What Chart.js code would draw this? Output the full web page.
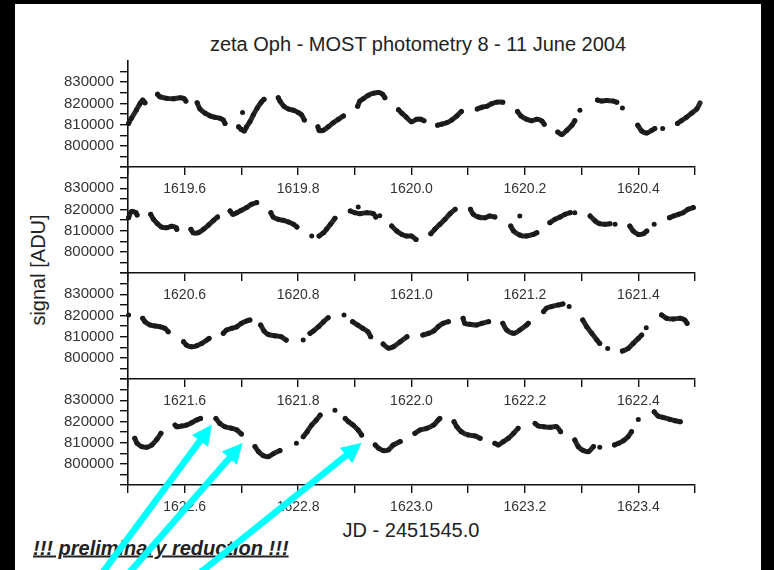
<!DOCTYPE html>
<html><head><meta charset="utf-8">
<script src="https://cdn.jsdelivr.net/npm/chart.js@4.4.1/dist/chart.umd.min.js"></script>
<style>
html,body{margin:0;padding:0;background:#000;width:774px;height:570px;overflow:hidden;}
#page{position:absolute;left:15px;top:4px;width:746px;height:566px;background:#fff;}
canvas{position:absolute;left:0;top:0;}
.t{position:absolute;font-family:"Liberation Sans",Arial,sans-serif;color:#222;white-space:nowrap;}
</style></head><body>
<div id="page"></div>
<div class="t" style="left:418px;top:44px;transform:translate(-50%,-50%);font-size:20px;">zeta Oph - MOST photometry 8 - 11 June 2004</div>
<div class="t" style="left:38px;top:270px;transform:translate(-50%,-50%) rotate(-90deg);font-size:20px;">signal [ADU]</div>
<div class="t" style="left:411px;top:530px;transform:translate(-50%,-50%);font-size:20px;">JD - 2451545.0</div>
<div class="t" style="left:33px;top:548px;transform:translate(0,-50%);font-size:20px;font-weight:bold;font-style:italic;text-decoration:underline;">!!! preliminary reduction !!!</div>
<canvas id="c1" width="774" height="570"></canvas>
<canvas id="c2" width="774" height="570"></canvas>
<canvas id="c3" width="774" height="570"></canvas>
<canvas id="c4" width="774" height="570"></canvas>
<script>
// ---- data (JD - 2451545.0, signal in ADU); null separates orbit segments ----
const panel1JD = [1619.501,1619.506,1619.515,1619.521,1619.526,1619.530,null,
 1619.552,1619.556,1619.568,1619.580,1619.592,1619.599,1619.602,null,
 1619.622,1619.627,1619.636,1619.645,1619.653,1619.662,1619.668,1619.671,null,
 1619.695,1619.700,1619.705,1619.709,1619.715,1619.721,1619.728,1619.735,1619.740,null,
 1619.702,null,
 1619.765,1619.768,1619.775,1619.783,1619.792,1619.800,1619.806,1619.811,null,
 1619.835,1619.837,1619.844,1619.853,1619.862,1619.871,1619.880,null,
 1619.905,1619.909,1619.915,1619.924,1619.933,1619.942,1619.949,1619.953,null,
 1619.977,1619.983,1619.991,1620.000,1620.009,1620.016,1620.022,null,
 1620.046,1620.053,1620.062,1620.071,1620.080,1620.088,null,
 1620.116,1620.124,1620.133,1620.141,1620.150,1620.161,null,
 1620.187,1620.193,1620.203,1620.212,1620.221,1620.230,1620.234,null,
 1620.258,1620.265,1620.274,1620.283,1620.288,null,
 1620.297,null,
 1620.328,1620.335,1620.344,1620.356,1620.362,null,
 1620.372,null,
 1620.399,1620.406,1620.415,1620.424,1620.429,null,
 1620.443,null,
 1620.469,1620.476,1620.485,1620.494,1620.503,1620.509];
const panel1ADU = [810550,812980,817030,819790,821570,820270,null,
 824330,823190,822380,822220,822710,822220,821080,null,
 820270,817360,815410,814110,813470,812980,812170,810550,null,
 808930,807630,806980,808930,811360,814600,817840,820600,821900,null,
 815740,null,
 822710,821080,818650,817360,816710,815740,814600,812170,null,
 808930,807310,807310,808930,810870,812490,814110,null,
 818650,821080,822220,823840,824810,825140,824330,822710,null,
 817030,815410,813470,811360,812490,812490,811840,null,
 809740,810220,810870,812170,814110,816220,null,
 817360,818170,818650,819790,820600,820600,null,
 816220,814110,812490,811840,812490,811680,810220,null,
 806500,805360,807310,809740,811840,null,
 816710,null,
 821570,821080,821410,821080,820600,null,
 817840,null,
 809740,806980,806010,807310,808120,null,
 808120,null,
 810550,811840,813470,815410,817360,820270];

const panel2JD = [1620.501,1620.506,1620.514,1620.516,null,
 1620.540,1620.545,1620.552,1620.559,1620.568,1620.577,1620.585,1620.586,null,
 1620.611,1620.615,1620.624,1620.633,1620.642,1620.651,1620.658,null,
 1620.680,1620.685,1620.692,1620.700,1620.709,1620.718,1620.727,null,
 1620.752,1620.756,1620.765,1620.774,1620.783,1620.792,1620.798,null,
 1620.824,null,
 1620.837,1620.845,1620.850,1620.857,1620.865,null,
 1620.892,1620.900,1620.909,1620.921,1620.933,1620.937,null,
 1620.906,null,
 1620.944,null,
 1620.965,1620.974,1620.983,1620.991,1621.000,1621.008,null,
 1621.034,1621.041,1621.050,1621.059,1621.068,1621.077,null,
 1621.104,1621.109,1621.118,1621.130,1621.138,1621.147,null,
 1621.191,null,
 1621.175,1621.180,1621.191,1621.203,1621.215,1621.221,null,
 1621.244,1621.253,1621.262,1621.271,1621.280,null,
 1621.288,null,
 1621.315,1621.324,1621.332,1621.341,1621.350,null,
 1621.359,null,
 1621.385,1621.391,1621.400,1621.409,1621.415,null,
 1621.428,null,
 1621.455,1621.462,1621.471,1621.479,1621.488,1621.497,null,
 1621.523];
const panel2ADU = [816100,818950,818470,817370,null,
 817680,815310,813260,811680,811370,812000,811370,810580,null,
 810580,809000,809000,810580,812630,814840,816420,null,
 819260,817680,818470,819580,820840,822420,823210,null,
 818470,816420,815310,814840,814050,812950,811680,null,
 807420,null,
 807420,809000,810580,812950,815790,null,
 819260,818470,818000,818470,818000,816420,null,
 821160,null,
 817000,null,
 812160,809790,808210,807420,807420,805840,null,
 808530,810580,812950,815310,818000,820050,null,
 820050,817680,816420,816100,816890,816420,null,
 816890,null,
 812160,809790,807890,807420,808210,809000,null,
 813740,815310,816420,817680,818470,null,
 818470,null,
 816890,814530,813260,812950,813260,null,
 812950,null,
 812160,809790,808210,808530,809790,null,
 812950,null,
 816100,816890,817680,818470,820050,820840,null,
 818470];

const panel3JD = [1621.501,null,
 1621.526,1621.530,1621.539,1621.548,1621.556,1621.565,1621.571,null,
 1621.598,1621.603,1621.612,1621.621,1621.630,1621.639,1621.643,null,
 1621.668,1621.674,1621.683,1621.692,1621.700,1621.709,1621.715,null,
 1621.734,1621.740,1621.747,1621.759,1621.770,1621.779,null,
 1621.809,null,
 1621.821,1621.827,1621.836,1621.845,1621.853,null,
 1621.881,null,
 1621.896,1621.905,1621.914,1621.923,1621.928,null,
 1621.950,1621.959,1621.968,1621.980,1621.992,null,
 1622.020,1622.030,1622.039,1622.047,1622.056,1622.065,null,
 1622.091,1622.094,1622.103,1622.115,1622.124,1622.136,null,
 1622.161,1622.168,1622.180,1622.191,1622.203,1622.206,null,
 1622.233,1622.238,1622.247,1622.259,1622.267,null,
 1622.278,null,
 1622.302,1622.309,1622.318,1622.327,1622.332,null,
 1622.346,null,
 1622.372,1622.382,1622.391,1622.400,1622.406,null,
 1622.414,null,
 1622.441,1622.450,1622.462,1622.474,1622.482,1622.486,null,
 1622.513,1622.514];
const panel3ADU = [820210,null,
 818630,817050,815470,815000,814680,813890,812320,null,
 807580,806000,805210,805680,806790,808370,809160,null,
 811530,813110,813890,814680,816260,817370,817840,null,
 815470,812630,811050,810420,809950,808370,null,
 808370,null,
 811530,812630,814680,817050,818950,null,
 820210,null,
 817050,815470,813890,812320,809950,null,
 806500,804600,805210,807580,809950,null,
 810740,811530,812630,814680,816260,817050,null,
 818630,816260,815790,815470,816260,817050,null,
 816260,813110,811530,813110,815470,816260,null,
 821790,823370,824160,824950,825420,null,
 824160,null,
 817840,814680,811530,808370,806790,null,
 804420,null,
 803160,804420,806790,809160,810740,null,
 814210,null,
 820210,818630,818320,818630,817840,816260,null,
 809950,808370];

const panel4JD = [1622.486,1622.488,null,
 1622.512,1622.516,1622.524,1622.533,1622.542,1622.551,1622.558,null,
 1622.583,1622.586,1622.595,1622.603,1622.612,1622.621,1622.628,null,
 1622.655,1622.662,1622.671,1622.683,1622.692,1622.700,null,
 1622.724,1622.730,1622.739,1622.748,1622.756,1622.768,null,
 1622.797,null,
 1622.809,1622.816,1622.824,1622.832,1622.839,null,
 1622.865,null,
 1622.883,1622.889,1622.897,1622.906,1622.912,null,
 1622.936,1622.942,1622.950,1622.959,1622.968,1622.980,null,
 1623.006,1623.015,1623.027,1623.039,1623.047,1623.050,null,
 1623.075,1623.080,1623.088,1623.100,1623.112,1623.121,null,
 1623.147,1623.153,1623.162,1623.171,1623.180,1623.188,null,
 1623.218,1623.224,1623.233,1623.244,1623.256,1623.263,null,
 1623.288,1623.294,1623.303,1623.312,1623.321,null,
 1623.332,null,
 1623.358,1623.365,1623.374,1623.382,1623.388,null,
 1623.400,null,
 1623.428,1623.435,1623.444,1623.456,1623.465,1623.474];
const panel4ADU = [817810,816250,null,
 812030,809690,808130,807810,808910,811560,814380,null,
 818280,817500,817810,818280,819380,820630,821410,null,
 821410,819060,817500,816720,815940,814060,null,
 808130,805780,803750,803440,804690,806250,null,
 809690,null,
 812810,815160,818280,820630,822970,null,
 825310,null,
 821410,819840,818280,815940,813590,null,
 808910,807340,806250,806560,808910,810470,null,
 814380,815940,816720,818280,820630,821410,null,
 819840,817500,815160,813590,813130,812030,null,
 809690,808910,810470,812030,814380,816720,null,
 819060,817810,817500,817190,817500,815160,null,
 811250,808130,806250,805780,808130,null,
 807810,null,
 808910,809690,810940,812810,815160,null,
 820940,null,
 824530,822500,821880,820940,820310,819840];

// panel x-ranges (start JD of each 1-day strip)
const panelStartJD = [1619.5, 1620.5, 1621.5, 1622.5];
const yTickLabels = [800000, 810000, 820000, 830000];
// arrow annotation tips (data coordinates in the last strip)
const arrowTipJD = [1622.648, 1622.702, 1622.912];
const arrowTipADU = [818400, 809800, 809800];

// ---- layout constants ----
const W = 774, H = 570, PL = 128, PR = 695;
const panelTops = [61, 167, 273, 379], PH = 106;
const YW = 100, XH = 40;
const arrowTails = [[103, 572], [130, 572], [201, 572]];

// build {x,y} points; a gap keeps the previous x with a null y
function toPoints(xs, ys) {
  const out = [];
  let lastX = xs[0];
  for (let i = 0; i < xs.length; i++) {
    if (xs[i] === null || ys[i] === null) out.push({x: lastX, y: null});
    else { out.push({x: xs[i], y: ys[i]}); lastX = xs[i]; }
  }
  return out;
}

const arrowPlugin = {
  id: 'arrows',
  afterDraw(chart) {
    const ctx = chart.ctx, xs = chart.scales.x, ys = chart.scales.y;
    ctx.save();
    ctx.fillStyle = '#00ffff';
    ctx.strokeStyle = '#00ffff';
    for (let i = 0; i < arrowTipJD.length; i++) {
      const tx = xs.getPixelForValue(arrowTipJD[i]), ty = ys.getPixelForValue(arrowTipADU[i]);
      const sx = arrowTails[i][0], sy = arrowTails[i][1];
      const dx = tx - sx, dy = ty - sy, L = Math.hypot(dx, dy);
      const ux = dx / L, uy = dy / L, nx = -uy, ny = ux;
      const hl = 20, hw = 10;
      const bx = tx - ux * hl, by = ty - uy * hl;
      ctx.lineWidth = 6.5;
      ctx.beginPath(); ctx.moveTo(sx, sy); ctx.lineTo(bx + ux * 2, by + uy * 2); ctx.stroke();
      ctx.beginPath();
      ctx.moveTo(tx, ty);
      ctx.lineTo(bx + nx * hw, by + ny * hw);
      ctx.lineTo(bx - nx * hw, by - ny * hw);
      ctx.closePath(); ctx.fill();
    }
    ctx.restore();
  }
};

function makePanel(id, idx, xs, ys, plugins) {
  const top = panelTops[idx], bottom = top + PH;
  const x0 = panelStartJD[idx];
  return new Chart(document.getElementById(id), {
    type: 'line',
    data: { datasets: [{
      data: toPoints(xs, ys),
      borderColor: 'rgba(22,22,22,0.92)',
      backgroundColor: '#1a1a1a',
      borderWidth: 5,
      borderCapStyle: 'round',
      borderJoinStyle: 'round',
      pointRadius: 2.5,
      pointBorderWidth: 0,
      pointBackgroundColor: '#1a1a1a',
      tension: 0.3,
      spanGaps: false,
      clip: false
    }]},
    options: {
      responsive: false,
      animation: false,
      events: [],
      layout: { padding: { left: PL - YW, right: W - PR, top: top, bottom: H - XH - bottom } },
      plugins: { legend: { display: false }, tooltip: { enabled: false }, title: { display: false } },
      scales: {
        x: {
          type: 'linear', min: x0, max: x0 + 1,
          afterFit(s) { s.height = XH; s.paddingLeft = 0; s.paddingRight = 0; },
          border: { display: true, color: '#111', width: 1.6 },
          grid: { display: true, drawOnChartArea: false, drawTicks: true, tickLength: 8, color: '#111', lineWidth: 1.4 },
          ticks: {
            stepSize: 0.1, autoSkip: false, maxRotation: 0, padding: 6,
            color: '#333', font: { family: '"Liberation Sans", Arial, sans-serif', size: 14 },
            callback(v) { const k = Math.round(v * 10); return (k % 2 === 0) ? (k / 10).toFixed(1) : ''; }
          }
        },
        y: {
          type: 'linear', min: 790000, max: 840000,
          afterFit(s) { s.width = YW; s.paddingTop = 0; s.paddingBottom = 0; },
          border: { display: true, color: '#111', width: 1.6 },
          grid: { display: true, drawOnChartArea: false, drawTicks: true, tickLength: 8, lineWidth: 1.4,
            color: '#111',
            tickColor: (c) => (idx === 0 && c.tick && c.tick.value === 840000) ? 'rgba(0,0,0,0)' : '#111' },
          ticks: {
            stepSize: 5000, autoSkip: false, padding: 6,
            color: '#333', font: { family: '"Liberation Sans", Arial, sans-serif', size: 15 },
            callback(v) { return yTickLabels.includes(v) ? String(v) : ''; }
          }
        }
      }
    },
    plugins: plugins || []
  });
}

makePanel('c1', 0, panel1JD, panel1ADU);
makePanel('c2', 1, panel2JD, panel2ADU);
makePanel('c3', 2, panel3JD, panel3ADU);
makePanel('c4', 3, panel4JD, panel4ADU, [arrowPlugin]);
</script>
</body></html>
